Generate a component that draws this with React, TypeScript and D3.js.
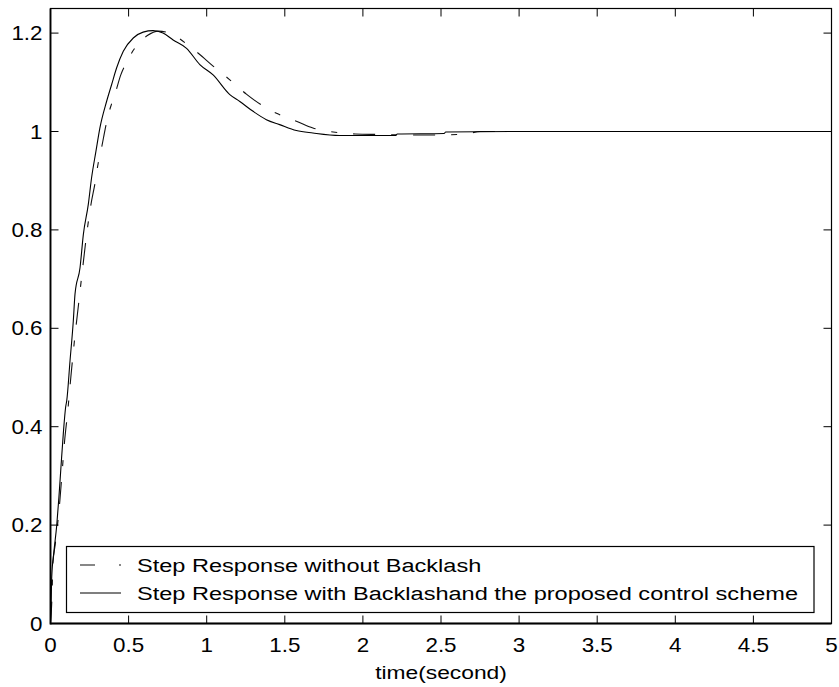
import React from "react";
import * as d3 from "d3";

const xTicks = [0, 0.5, 1, 1.5, 2, 2.5, 3, 3.5, 4, 4.5, 5];
const xTickLabels = ["0", "0.5", "1", "1.5", "2", "2.5", "3", "3.5", "4", "4.5", "5"];
const yTicks = [0, 0.2, 0.4, 0.6, 0.8, 1, 1.2];
const yTickLabels = ["0", "0.2", "0.4", "0.6", "0.8", "1", "1.2"];

// Step response with backlash and the proposed control scheme (solid)
const solidT = [0, 0.004, 0.008, 0.022, 0.04, 0.054, 0.067, 0.082, 0.097, 0.104, 0.125, 0.146, 0.157, 0.189, 0.21, 0.242, 0.263, 0.291, 0.316, 0.359, 0.391, 0.423, 0.466, 0.53, 0.593, 0.657, 0.72, 0.785, 0.871, 0.956, 1.041, 1.148, 1.212, 1.297, 1.382, 1.467, 1.574, 1.68, 1.85, 2.0, 2.21, 2.22, 2.52, 2.53, 3.0, 4.0, 5.0];
const solidY = [0, 0.044, 0.095, 0.146, 0.2, 0.257, 0.318, 0.386, 0.44, 0.453, 0.534, 0.615, 0.67, 0.723, 0.79, 0.852, 0.906, 0.96, 1.007, 1.061, 1.095, 1.129, 1.163, 1.19, 1.202, 1.205, 1.2, 1.186, 1.169, 1.136, 1.115, 1.075, 1.061, 1.041, 1.024, 1.014, 1.002, 0.997, 0.992, 0.992, 0.992, 0.995, 0.996, 0.999, 1.0, 1.0, 1.0];

// Step response without backlash (dashed)
const dashT = [0, 0.01, 0.015, 0.03, 0.045, 0.06, 0.075, 0.09, 0.11, 0.13, 0.155, 0.18, 0.205, 0.231, 0.258, 0.285, 0.305, 0.327, 0.35, 0.37, 0.39, 0.412, 0.45, 0.497, 0.53, 0.56, 0.62, 0.69, 0.764, 0.82, 0.871, 0.95, 1.041, 1.148, 1.254, 1.35, 1.447, 1.574, 1.68, 1.81, 1.95, 2.1, 2.32, 2.5, 2.66, 2.75, 3.0, 4.0, 5.0];
const dashY = [0, 0.06, 0.12, 0.16, 0.2, 0.25, 0.31, 0.37, 0.43, 0.5, 0.58, 0.65, 0.72, 0.79, 0.85, 0.895, 0.935, 0.967, 1.005, 1.034, 1.055, 1.075, 1.115, 1.146, 1.165, 1.178, 1.195, 1.204, 1.2, 1.19, 1.178, 1.158, 1.133, 1.105, 1.076, 1.054, 1.037, 1.021, 1.007, 0.999, 0.995, 0.994, 0.993, 0.993, 0.995, 1.0, 1.0, 1.0, 1.0];

const legendLabels = [
  "Step Response without Backlash",
  "Step Response with Backlashand the proposed control scheme",
];
const xLabel = "time(second)";

const W = 839;
const H = 687;
const left = 50.5;
const right = 831.5;
const top = 8.5;
const bottom = 623.5;

const FONT = "'Liberation Sans', Arial, sans-serif";

function SText({ x, y, anchor = "start", size = 18, sx = 1.2, children }: any) {
  return (
    <g transform={`translate(${x},${y}) scale(${sx},1)`}>
      <text x={0} y={0} textAnchor={anchor} fontFamily={FONT} fontSize={size} fill="#000">
        {children}
      </text>
    </g>
  );
}

export default function App() {
  const x = d3.scaleLinear().domain([0, 5]).range([left, right]);
  const y = d3.scaleLinear().domain([0, 1.25]).range([bottom, top]);
  const line = d3
    .line<[number, number]>()
    .x((d) => x(d[0]))
    .y((d) => y(d[1]))
    .curve(d3.curveMonotoneX);
  const solid = solidT.map((t, i) => [t, solidY[i]] as [number, number]);
  const dashed = dashT.map((t, i) => [t, dashY[i]] as [number, number]);
  const tl = 8;

  return (
    <svg
      width={W}
      height={H}
      style={{ position: "absolute", left: 0, top: 0, background: "#fff" }}
    >
      <rect x={0} y={0} width={W} height={H} fill="#fff" />
      {/* curves */}
      <path d={line(dashed) || ""} fill="none" stroke="#111" strokeWidth={1.1} strokeDasharray="22 16 6 16" />
      <path d={line(solid) || ""} fill="none" stroke="#000" strokeWidth={1.1} />

      {/* axes box */}
      <rect x={left} y={top} width={right - left} height={bottom - top} fill="none" stroke="#000" strokeWidth={1.2} />
      <line x1={left} x2={left} y1={top} y2={bottom + 1} stroke="#000" strokeWidth={1.8} />
      <line x1={left} x2={right} y1={bottom} y2={bottom} stroke="#000" strokeWidth={1.8} />

      {/* x ticks */}
      {xTicks.map((t, i) => (
        <g key={"xt" + i}>
          <line x1={x(t)} x2={x(t)} y1={bottom} y2={bottom - tl} stroke="#000" strokeWidth={1} />
          <line x1={x(t)} x2={x(t)} y1={top} y2={top + tl} stroke="#000" strokeWidth={1} />
          <SText x={x(t)} y={bottom + 28} anchor="middle" size={20} sx={1.12}>
            {xTickLabels[i]}
          </SText>
        </g>
      ))}
      {/* y ticks */}
      {yTicks.map((t, i) => (
        <g key={"yt" + i}>
          <line x1={left} x2={left + tl} y1={y(t)} y2={y(t)} stroke="#000" strokeWidth={1} />
          <line x1={right} x2={right - tl} y1={y(t)} y2={y(t)} stroke="#000" strokeWidth={1} />
          <SText x={left - 8} y={y(t) + 7} anchor="end" size={20} sx={1.12}>
            {yTickLabels[i]}
          </SText>
        </g>
      ))}

      {/* x label */}
      <SText x={(left + right) / 2} y={679} anchor="middle" size={19} sx={1.2}>
        {xLabel}
      </SText>

      {/* legend */}
      <rect x={66.5} y={546.5} width={747.5} height={66} fill="#fff" stroke="#000" strokeWidth={1.2} />
      <line x1={80} x2={121} y1={565} y2={565} stroke="#111" strokeWidth={1.1} strokeDasharray="15 24 2 100" />
      <line x1={80} x2={121} y1={593} y2={593} stroke="#000" strokeWidth={1.1} />
      <SText x={137} y={572} size={19} sx={1.24}>
        {legendLabels[0]}
      </SText>
      <SText x={137} y={600} size={19} sx={1.24}>
        {legendLabels[1]}
      </SText>
    </svg>
  );
}
